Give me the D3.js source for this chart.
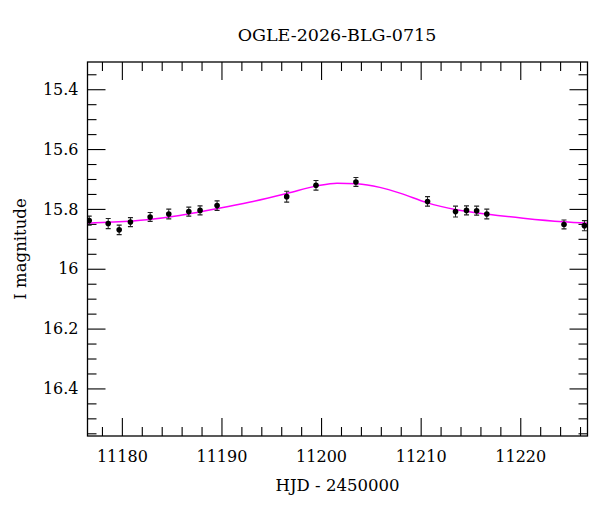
<!DOCTYPE html>
<html>
<head>
<meta charset="utf-8">
<script src="https://cdn.jsdelivr.net/npm/d3@7"></script>
<style>
  body { margin: 0; background: #fff; }
  text { font-family: "DejaVu Serif", serif; fill: #000; }
</style>
</head>
<body>
<svg id="chart"></svg>
<script>
// observations (HJD - 2450000, I mag, error)
const obsTime = [11176.72, 11178.63, 11179.73, 11180.86, 11182.84, 11184.71, 11186.72, 11187.85, 11189.56,
                 11196.55, 11199.49, 11203.50, 11210.69, 11213.50, 11214.60, 11215.62, 11216.64, 11224.39, 11226.44]
const obsMag  = [15.839, 15.849, 15.870, 15.844, 15.827, 15.817, 15.809, 15.805, 15.789,
                 15.759, 15.721, 15.710, 15.775, 15.809, 15.805, 15.806, 15.817, 15.852, 15.856]
const obsErr  = [0.015, 0.017, 0.016, 0.015, 0.015, 0.016, 0.015, 0.015, 0.016,
                 0.018, 0.016, 0.015, 0.016, 0.018, 0.015, 0.015, 0.016, 0.015, 0.017]

// model curve
const modelTime = [11176.5, 11179.1, 11182.5, 11185.8, 11187.8, 11189.6, 11192.9, 11196.6, 11199.6, 11201.6,
                   11203.6, 11205.9, 11208.0, 11210.6, 11213.6, 11216.6, 11220.3, 11224.3, 11226.8]
const modelMag  = [15.848, 15.844, 15.836, 15.822, 15.810, 15.799, 15.777, 15.748, 15.723, 15.714,
                   15.716, 15.728, 15.748, 15.779, 15.803, 15.817, 15.831, 15.843, 15.848]

const xTicks = [11180, 11190, 11200, 11210, 11220]
const yTicks = [15.4, 15.6, 15.8, 16, 16.2, 16.4]
const xDomain = [11176.55, 11226.75]
const yDomain = [15.309, 16.559]

const W = 600, H = 512
const mLeft = 87.5, mRight = 587.5, mTop = 62, mBottom = 436
const serif = '"DejaVu Serif", serif'

const svg = d3.select('#chart').attr('width', W).attr('height', H)

const x = d3.scaleLinear().domain(xDomain).range([mLeft, mRight])
const y = d3.scaleLinear().domain(yDomain).range([mTop, mBottom])

svg.append('clipPath').attr('id', 'clip')
    .append('rect')
    .attr('x', mLeft).attr('y', mTop)
    .attr('width', mRight - mLeft).attr('height', mBottom - mTop)

// ticks on all four sides, pointing inward
const xMinor = d3.range(11178, 11227, 2).filter(v => !xTicks.includes(v))
const yMinor = d3.range(15.35, 16.56, 0.05).map(v => +v.toFixed(2)).filter(v => !yTicks.some(t => Math.abs(t - v) < 1e-6))

const axes = [
    d3.axisBottom(x).tickValues(xTicks).tickSizeInner(-18).tickSizeOuter(0).tickPadding(15).tickFormat(d => d),
    d3.axisTop(x).tickValues(xTicks).tickSizeInner(-18).tickSizeOuter(0).tickFormat(''),
    d3.axisLeft(y).tickValues(yTicks).tickSizeInner(-18).tickSizeOuter(0).tickPadding(9).tickFormat(d => d),
    d3.axisRight(y).tickValues(yTicks).tickSizeInner(-18).tickSizeOuter(0).tickFormat('')
]
const minorAxes = [
    d3.axisBottom(x).tickValues(xMinor).tickSizeInner(-9).tickSizeOuter(0).tickFormat(''),
    d3.axisTop(x).tickValues(xMinor).tickSizeInner(-9).tickSizeOuter(0).tickFormat(''),
    d3.axisLeft(y).tickValues(yMinor).tickSizeInner(-9).tickSizeOuter(0).tickFormat(''),
    d3.axisRight(y).tickValues(yMinor).tickSizeInner(-9).tickSizeOuter(0).tickFormat('')
]
const shift = ['translate(0,' + mBottom + ')', 'translate(0,' + mTop + ')',
               'translate(' + mLeft + ',0)', 'translate(' + mRight + ',0)']

axes.concat(minorAxes).forEach((ax, i) => {
    const g = svg.append('g').attr('transform', shift[i % 4]).call(ax)
        .attr('font-family', serif).attr('font-size', 16)
    g.select('.domain').remove()
    g.selectAll('line').attr('stroke', '#000').attr('stroke-width', 1.1)
    g.selectAll('text').attr('fill', '#000')
        .style('font-family', serif).style('font-size', '16px')
})

// model curve
const line = d3.line()
    .x((d, i) => x(modelTime[i]))
    .y((d, i) => y(modelMag[i]))
    .curve(d3.curveMonotoneX)

svg.append('path')
    .attr('clip-path', 'url(#clip)')
    .attr('d', line(modelTime))
    .attr('fill', 'none')
    .attr('stroke', '#ff00ff')
    .attr('stroke-width', 1.5)

// data points with error bars
const pts = svg.append('g').attr('clip-path', 'url(#clip)')
    .selectAll('g')
    .data(obsTime)
    .join('g')

pts.append('line')
    .attr('x1', d => x(d)).attr('x2', d => x(d))
    .attr('y1', (d, i) => y(obsMag[i] - obsErr[i]))
    .attr('y2', (d, i) => y(obsMag[i] + obsErr[i]))
    .attr('stroke', '#222').attr('stroke-width', 1)

pts.selectAll('.cap')
    .data((d, i) => [[d, obsMag[i] - obsErr[i]], [d, obsMag[i] + obsErr[i]]])
    .join('line')
    .attr('class', 'cap')
    .attr('x1', d => x(d[0]) - 2.5).attr('x2', d => x(d[0]) + 2.5)
    .attr('y1', d => y(d[1])).attr('y2', d => y(d[1]))
    .attr('stroke', '#222').attr('stroke-width', 1.2)

pts.append('circle')
    .attr('cx', d => x(d))
    .attr('cy', (d, i) => y(obsMag[i]))
    .attr('r', 2.8)
    .attr('fill', '#000')

// frame
svg.append('rect')
    .attr('x', mLeft).attr('y', mTop)
    .attr('width', mRight - mLeft).attr('height', mBottom - mTop)
    .attr('fill', 'none').attr('stroke', '#000').attr('stroke-width', 1.3)

// labels
svg.append('text')
    .attr('x', 337).attr('y', 41)
    .attr('text-anchor', 'middle').attr('font-size', 17.5)
    .text('OGLE-2026-BLG-0715')

svg.append('text')
    .attr('x', 337.5).attr('y', 491)
    .attr('text-anchor', 'middle').attr('font-size', 16.5)
    .text('HJD - 2450000')

svg.append('text')
    .attr('transform', 'translate(26,249) rotate(-90)')
    .attr('text-anchor', 'middle').attr('font-size', 16.5)
    .text('I magnitude')
</script>
</body>
</html>
